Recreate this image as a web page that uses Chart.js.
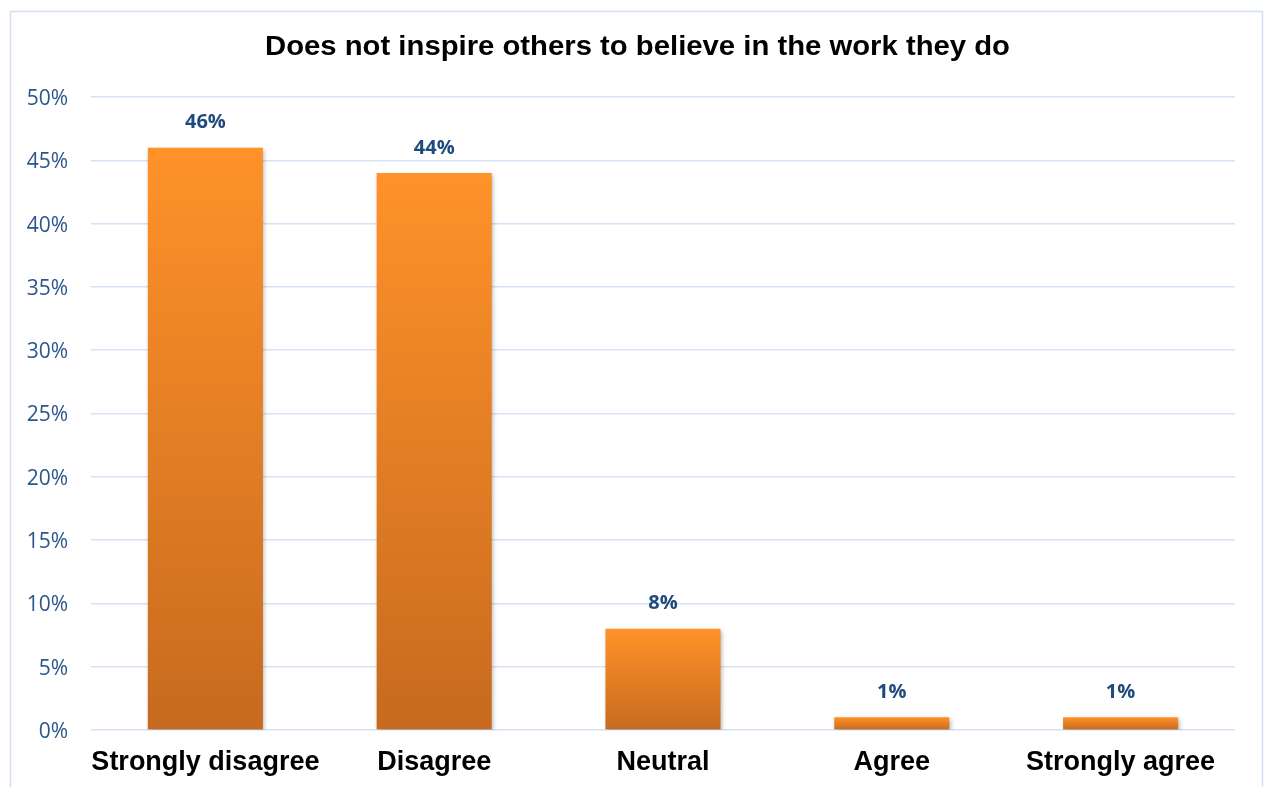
<!DOCTYPE html>
<html>
<head>
<meta charset="utf-8">
<script src="https://cdn.jsdelivr.net/npm/chart.js@4.4.1/dist/chart.umd.min.js"></script>
<style>
  html, body { margin: 0; padding: 0; background: #fff; }
  #wrap { position: relative; width: 1264px; height: 787px; }
</style>
</head>
<body>
<div id="wrap"><canvas id="barChart" width="1264" height="787"></canvas></div>
<script>
/* single bar chart: survey answers as share of respondents */

const TITLE = 'Does not inspire others to believe in the work they do';
const CATEGORIES = ['Strongly disagree', 'Disagree', 'Neutral', 'Agree', 'Strongly agree'];
const SHARES = [46, 44, 8, 1, 1];
const Y_MAX = 50;
const Y_STEP = 5;

const BAR_TOP = '#FF9229';
const BAR_BOTTOM = '#C76A1F';
const GRID = '#D6E2F3';
const TICK_BLUE = '#2C568C';
const LABEL_BLUE = '#1F4A7C';

// gradient per bar, from its own top down to the zero line
function barFill(c) {
  const chart = c.chart;
  const y = chart.scales && chart.scales.y;
  if (!y || c.raw == null) return BAR_TOP;
  const top = y.getPixelForValue(c.raw);
  const base = y.getPixelForValue(0);
  if (!isFinite(top) || !isFinite(base) || top === base) return BAR_TOP;
  const g = chart.ctx.createLinearGradient(0, top, 0, base);
  g.addColorStop(0, BAR_TOP);
  g.addColorStop(1, BAR_BOTTOM);
  return g;
}

// frame, title, bar shadows and value labels
const decor = {
  id: 'decor',
  beforeDraw(chart) {
    const ctx = chart.ctx;
    ctx.save();
    ctx.strokeStyle = '#D3E0F2';
    ctx.lineWidth = 1.5;
    ctx.strokeRect(10.5, 11.5, 1252, 800);
    // title is a touch wider than the plain font, so stretch it to 745px
    ctx.fillStyle = '#000';
    ctx.font = 'bold 27px "Liberation Sans", Arial, sans-serif';
    ctx.textAlign = 'center';
    ctx.textBaseline = 'middle';
    const sx = 745 / ctx.measureText(TITLE).width;
    ctx.translate(637.5, 48);
    ctx.scale(sx, 1);
    ctx.fillText(TITLE, 0, 0);
    ctx.restore();
  },
  beforeDatasetsDraw(chart) {
    const ctx = chart.ctx;
    ctx.save();
    ctx.shadowColor = 'rgba(0,0,0,0.28)';
    ctx.shadowBlur = 4;
    ctx.shadowOffsetX = 1.5;
    ctx.shadowOffsetY = 2;
  },
  afterDatasetsDraw(chart) {
    const ctx = chart.ctx;
    ctx.restore();
    ctx.save();
    ctx.fillStyle = LABEL_BLUE;
    ctx.font = 'bold 20px "Open Sans", "Noto Sans", sans-serif';
    ctx.textAlign = 'center';
    ctx.textBaseline = 'middle';
    chart.getDatasetMeta(0).data.forEach((bar, i) => {
      ctx.fillText(SHARES[i] + '%', bar.x, bar.y - 25);
    });
    ctx.restore();
  }
};

new Chart(document.getElementById('barChart'), {
  type: 'bar',
  data: {
    labels: CATEGORIES,
    datasets: [{
      data: SHARES,
      backgroundColor: barFill,
      borderWidth: 0,
      categoryPercentage: 1,
      barPercentage: 0.503,
    }],
  },
  options: {
    responsive: false,
    animation: false,
    layout: { padding: { top: 97, right: 29, left: 0, bottom: 0 } },
    plugins: {
      legend: { display: false },
      title: { display: false },
      tooltip: { enabled: false },
    },
    scales: {
      x: {
        grid: { display: false, drawTicks: false },
        border: { display: false },
        ticks: {
          padding: 16,
          color: '#000',
          font: { family: '"Liberation Sans", Arial, sans-serif', size: 27, weight: 'bold' },
          maxRotation: 0,
          autoSkip: false,
        },
        afterFit(s) { s.height = 57; },
      },
      y: {
        min: 0,
        max: Y_MAX,
        grid: { color: GRID, lineWidth: 1.5, drawTicks: false },
        border: { display: false },
        ticks: {
          stepSize: Y_STEP,
          padding: 23,
          labelOffset: 2,
          color: TICK_BLUE,
          font: { family: '"Open Sans", "Noto Sans", sans-serif', size: 21 },
          callback: v => v + '%',
        },
        afterFit(s) { s.width = 91; },
      },
    },
  },
  plugins: [decor],
});
</script>
</body>
</html>
